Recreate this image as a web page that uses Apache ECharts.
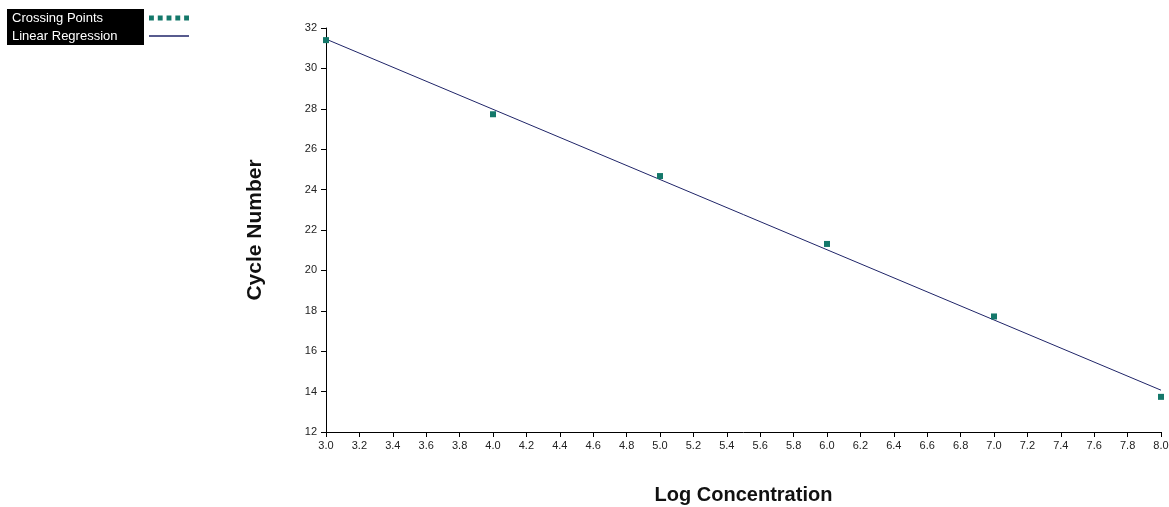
<!DOCTYPE html>
<html>
<head>
<meta charset="utf-8">
<script src="https://cdn.jsdelivr.net/npm/echarts@6/dist/echarts.min.js"></script>
<style>
  html, body { margin: 0; padding: 0; background: #fff; }
  #main { width: 1169px; height: 507px; }
</style>
</head>
<body>
<div id="main"></div>
<script>
// crossing points
const logConc = [3.0, 4.0, 5.0, 6.0, 7.0, 8.0]
const cycleNum = [31.4, 27.73, 24.67, 21.31, 17.72, 13.74]
// regression line end points
const fitX = [3.0, 8.0]
const fitY = [31.45, 14.07]

const font = 'Liberation Sans, Arial, sans-serif'
const pointColor = '#14786a'
const lineColor = '#1f2468'

const chart = echarts.init(document.getElementById('main'))

const option = {
  animation: false,
  grid: { left: 326, right: 8, top: 28, bottom: 75, outerBoundsMode: 'none' },
  legend: {
    orient: 'vertical',
    left: 7,
    top: 9,
    padding: 0,
    align: 'right',
    itemGap: 0,
    itemWidth: 40,
    itemHeight: 12,
    data: [
      { name: 'Crossing Points', icon: 'path://M0,0h5v5h-5z M9,0h5v5h-5z M18,0h5v5h-5z M27,0h5v5h-5z M36,0h5v5h-5z' },
      { name: 'Linear Regression', icon: 'path://M0,0h40v1.5h-40z' }
    ],
    formatter: name => '{t|' + name + '}',
    textStyle: {
      rich: {
        t: {
          color: '#fff',
          backgroundColor: '#000',
          fontFamily: font,
          fontSize: 13,
          align: 'left',
          width: 128,
          height: 18,
          lineHeight: 18,
          padding: [0, 4, 0, 5]
        }
      }
    }
  },
  xAxis: {
    type: 'value',
    min: 3,
    max: 8,
    interval: 0.2,
    name: 'Log Concentration',
    nameLocation: 'middle',
    nameGap: 53,
    nameTextStyle: { fontFamily: font, fontSize: 20, fontWeight: 'bold', color: '#111' },
    axisLine: { lineStyle: { color: '#000', width: 1 } },
    axisTick: { length: 5, lineStyle: { color: '#000' } },
    axisLabel: { fontFamily: font, fontSize: 11, color: '#222', margin: 8, formatter: v => v.toFixed(1) },
    splitLine: { show: false }
  },
  yAxis: {
    type: 'value',
    min: 12,
    max: 32,
    interval: 2,
    name: 'Cycle Number',
    nameLocation: 'middle',
    nameGap: 60,
    nameRotate: 90,
    nameTextStyle: { fontFamily: font, fontSize: 21, fontWeight: 'bold', color: '#111' },
    axisLine: { show: true, lineStyle: { color: '#000', width: 1 } },
    axisTick: { show: true, length: 5, lineStyle: { color: '#000' } },
    axisLabel: { fontFamily: font, fontSize: 11, color: '#222', margin: 9 },
    splitLine: { show: false }
  },
  series: [
    {
      name: 'Crossing Points',
      type: 'scatter',
      symbol: 'rect',
      symbolSize: 6,
      itemStyle: { color: pointColor, opacity: 1 },
      data: logConc.map((x, i) => [x, cycleNum[i]]),
      z: 3
    },
    {
      name: 'Linear Regression',
      type: 'line',
      symbol: 'none',
      itemStyle: { color: lineColor },
      lineStyle: { color: lineColor, width: 1 },
      data: fitX.map((x, i) => [x, fitY[i]]),
      z: 2
    }
  ]
}

chart.setOption(option)
</script>
</body>
</html>
